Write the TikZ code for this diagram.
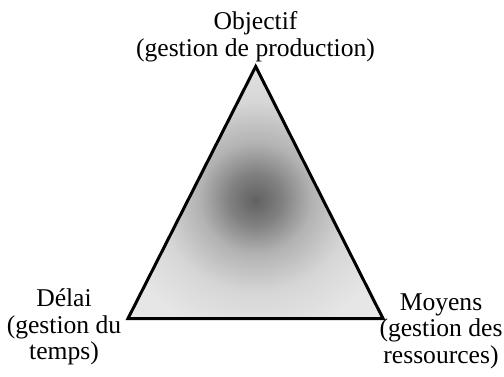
\documentclass[tikz,border=0pt]{standalone}
\usepackage{fontspec}
\setmainfont{Liberation Serif}
\pgfdeclareradialshading{trishade}{\pgfpoint{0bp}{-1.5bp}}{color(0bp)=(black!62); color(5bp)=(black!50); color(11bp)=(black!30); color(19bp)=(black!16); color(28bp)=(black!10); color(50bp)=(black!8)}
\begin{document}
\begin{tikzpicture}[x=1pt,y=-1pt,
  lbl/.style={font=\fontsize{25.6}{26.5}\selectfont, align=center, inner sep=0pt},
  edge/.style={line width=3pt, line join=miter}]
\useasboundingbox (0,0) rectangle (504,377);
\coordinate (T) at (255.7,66.5);
\coordinate (L) at (128,318.5);
\coordinate (R) at (383,318.5);
\shade[shading=trishade] (T)--(L)--(R)--cycle;
\draw[edge] (T)--(L)--(R)--cycle;
\node[lbl] (top) at (255.5,37) {Objectif\\(gestion de production)};
\node[lbl] (left) at (64,327) {Délai\\(gestion du\\temps)};
\node[lbl] (right) at (441,331) {Moyens\\(gestion des\\ressources)};
\end{tikzpicture}
\end{document}
